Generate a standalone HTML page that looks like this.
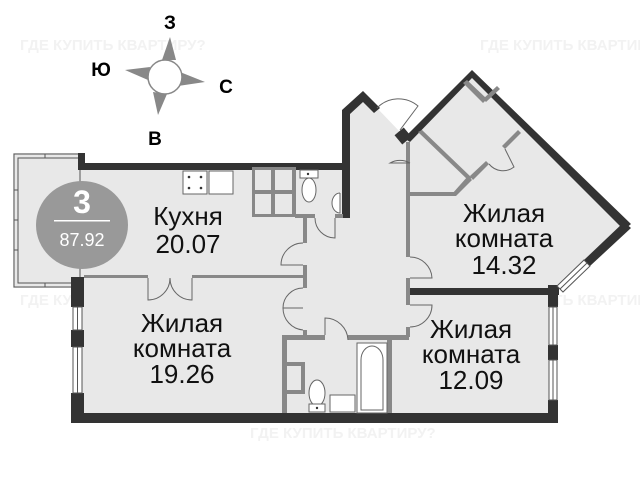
<!DOCTYPE html>
<html><head><meta charset="utf-8"><style>
html,body{margin:0;padding:0;background:#fff;}
svg{display:block;font-family:"Liberation Sans",sans-serif;}
</style></head><body>
<svg width="640" height="480" viewBox="0 0 640 480" xmlns="http://www.w3.org/2000/svg">
<g fill="#f2f2f2" font-weight="bold" font-size="15">
<text x="20" y="50">ГДЕ КУПИТЬ КВАРТИРУ?</text>
<text x="480" y="50">ГДЕ КУПИТЬ КВАРТИРУ?</text>
<text x="250" y="180">ГДЕ КУПИТЬ КВАРТИРУ?</text>
<text x="20" y="305">ГДЕ КУПИТЬ КВАРТИРУ?</text>
<text x="480" y="305">ГДЕ КУПИТЬ КВАРТИРУ?</text>
<text x="250" y="438">ГДЕ КУПИТЬ КВАРТИРУ?</text>
</g>
<polygon fill="#e8e8e8" points="13,153 85,153 85,166 346,166 346,110 363,93 377,108 400,132 408,137 472,73 627,225 557,290 557,420 74,420 74,288 13,288"/>
<g fill="none" stroke="#555" stroke-width="1">
<rect x="14" y="154" width="66" height="133"/>
<rect x="18" y="158" width="62" height="125"/>
<line x1="14" y1="190" x2="18" y2="190"/><line x1="14" y1="220" x2="18" y2="220"/><line x1="14" y1="250" x2="18" y2="250"/>
<line x1="45" y1="154" x2="45" y2="158"/><line x1="45" y1="283" x2="45" y2="287"/>
</g>
<g fill="#333">
<rect x="78" y="153" width="7" height="17"/>
<rect x="78" y="163" width="271" height="7"/>
<polygon points="342,218 342,110 363,91 380,108 374,113 363,102 350,114 350,218"/>
<rect x="397" y="130" width="12" height="12" transform="rotate(-40 403 136)"/>
<polygon points="404,138 472,70 631,224 624,230 472,78 410,142"/>
<polygon points="624,222 631,228 590,266 584,260"/>
<rect x="406" y="288" width="153" height="7"/>
<rect x="548" y="285" width="10" height="22"/>
<rect x="548" y="345" width="10" height="15"/>
<rect x="548" y="400" width="10" height="23"/>
<rect x="71" y="413" width="487" height="10"/>
<rect x="71" y="277" width="13" height="30"/>
<rect x="71" y="330" width="13" height="17"/>
<rect x="71" y="393" width="13" height="30"/>
</g>
<g fill="#fff" stroke="#555" stroke-width="1">
<rect x="73" y="307" width="9" height="23"/><line x1="77.5" y1="307" x2="77.5" y2="330"/>
<rect x="73" y="347" width="9" height="46"/><line x1="77.5" y1="347" x2="77.5" y2="393"/>
<rect x="549" y="307" width="8" height="38"/><line x1="553" y1="307" x2="553" y2="345"/>
<rect x="549" y="360" width="8" height="40"/><line x1="553" y1="360" x2="553" y2="400"/>
<polygon points="584,260 590,266 563,292 557,286"/>
<line x1="587" y1="263" x2="560" y2="289"/>
</g>
<g fill="#888">
<rect x="84" y="275" width="64" height="3"/>
<rect x="192" y="275" width="114" height="3"/>
<rect x="303" y="215" width="4" height="28"/>
<rect x="303" y="265" width="4" height="23"/>
<rect x="303" y="330" width="4" height="10"/>
<rect x="282" y="335" width="43" height="5"/>
<rect x="348" y="335" width="61" height="5"/>
<rect x="282" y="335" width="5" height="78"/>
<rect x="387" y="340" width="5" height="73"/>
<rect x="406" y="142" width="4" height="115"/>
<rect x="406" y="278" width="4" height="27"/>
<rect x="406" y="327" width="4" height="10"/>
<rect x="287" y="362" width="18" height="4"/><rect x="287" y="390" width="18" height="4"/>
<rect x="301" y="362" width="4" height="32"/>
<rect x="252" y="167" width="44" height="50"/>
<rect x="295" y="214" width="20" height="4"/>
<rect x="335" y="214" width="8" height="4"/>
<rect x="410" y="192" width="46" height="4"/>
<polygon points="418,132 422,130 472,178 468,180"/>
<polygon points="468,176 472,180 456,196 452,194"/>
<polygon points="470,176 486,161 489,164 473,180"/>
<polygon points="502,146 518,130 521,133 505,149"/>
<polygon points="463,83 467,80 487,99 483,103"/>
<polygon points="483,99 486,102 500,89 497,86"/>
</g>
<rect x="255" y="170" width="16" height="20" fill="#e8e8e8"/><rect x="275" y="170" width="17" height="20" fill="#e8e8e8"/>
<rect x="255" y="194" width="16" height="20" fill="#e8e8e8"/><rect x="275" y="194" width="17" height="20" fill="#e8e8e8"/>
<g fill="none" stroke="#666" stroke-width="1">
<path d="M148,278 L148,300 A22,22 0 0 0 170,278"/>
<path d="M192,278 L192,300 A22,22 0 0 1 170,278"/>
<path d="M303,243 A22,22 0 0 0 281,265 L303,265"/>
<path d="M303,288 A20,20 0 0 0 283,308 L303,308"/>
<path d="M283,308 A22,22 0 0 0 303,330"/>
<path d="M325,335 L325,318 A23,23 0 0 1 348,340"/>
<path d="M410,257 A22,22 0 0 1 432,278 L410,278"/>
<path d="M410,305 L432,305 A22,22 0 0 1 410,327"/>
<path d="M410,163 A20,20 0 0 0 390,163 L410,163"/>
<path d="M315,218 A20,20 0 0 0 335,238 L335,218"/>
<path d="M377,108 A30,30 0 0 1 418,106 L400,130"/>
<path d="M489,164 A18,18 0 0 0 514,167 L505,149"/>
</g>
<g fill="#fff" stroke="#666" stroke-width="1">
<rect x="183" y="171" width="24" height="23"/>
<rect x="209" y="171" width="24" height="23"/>
<rect x="300" y="170" width="18" height="8"/>
<ellipse cx="309" cy="190" rx="7" ry="12"/>
<path d="M340,193 L340,213 A8,10 0 0 1 340,193"/>
<rect x="357" y="343" width="30" height="70"/>
<path d="M361,410 L361,360 A11,14 0 0 1 383,360 L383,410 Z"/>
<ellipse cx="317" cy="393" rx="8" ry="13"/>
<rect x="309" y="404" width="16" height="8"/>
<rect x="330" y="395" width="25" height="17"/>
</g>
<g fill="#333"><circle cx="189" cy="177" r="1.3"/><circle cx="201" cy="177" r="1.3"/><circle cx="189" cy="188" r="1.3"/><circle cx="201" cy="188" r="1.3"/><circle cx="308" cy="174" r="1.2"/><circle cx="317" cy="408" r="1.2"/></g>
<ellipse cx="82" cy="225" rx="46" ry="44" fill="#999"/>
<text x="82" y="213" fill="#fff" font-size="32" font-weight="bold" text-anchor="middle">3</text>
<rect x="54" y="220" width="56" height="1.5" fill="#fff"/>
<text x="82" y="246" fill="#fff" font-size="18" text-anchor="middle">87.92</text>
<g fill="#111" font-size="26" text-anchor="middle">
<text x="188" y="225">Кухня</text><text x="188" y="253">20.07</text>
<text x="182" y="332">Жилая</text><text x="182" y="357">комната</text><text x="182" y="383">19.26</text>
<text x="504" y="222">Жилая</text><text x="504" y="247">комната</text><text x="504" y="274">14.32</text>
<text x="471" y="338">Жилая</text><text x="471" y="363">комната</text><text x="471" y="389">12.09</text>
</g>
<g fill="#888">
<polygon points="170,37 176,60 162,60"/>
<polygon points="125,70 150,67 148,80"/>
<polygon points="205,82 180,72 178,86"/>
<polygon points="158,115 153,92 167,94"/>
</g>
<circle cx="165" cy="77" r="17" fill="#fff" stroke="#888" stroke-width="1.5"/>
<g font-weight="bold" font-size="19" fill="#000" text-anchor="middle">
<text x="170" y="29">З</text><text x="101" y="76">Ю</text><text x="226" y="93">С</text><text x="155" y="145">В</text>
</g>
</svg>
</body></html>
